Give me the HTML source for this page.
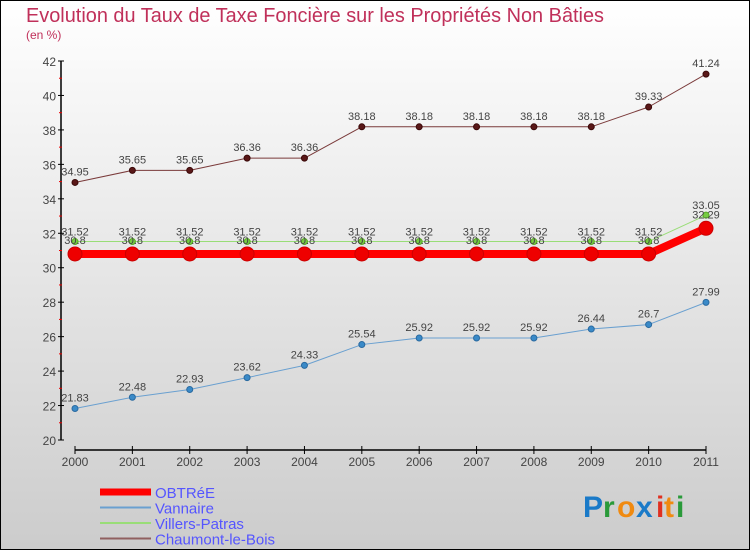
<!DOCTYPE html>
<html><head><meta charset="utf-8"><style>
body{margin:0;width:750px;height:550px;overflow:hidden;font-family:"Liberation Sans",sans-serif}
svg text{font-family:"Liberation Sans",sans-serif}
</style></head><body>
<svg id="c" width="750" height="550" xmlns="http://www.w3.org/2000/svg">
<defs><linearGradient id="bg" x1="0" y1="0" x2="0" y2="1"><stop offset="0" stop-color="#ffffff"/><stop offset="1" stop-color="#cccccc"/></linearGradient></defs>
<rect x="0.5" y="0.5" width="749" height="549" fill="url(#bg)" stroke="#000"/>
<text x="26" y="22" font-size="20" fill="#c0305a" textLength="578" lengthAdjust="spacingAndGlyphs">Evolution du Taux de Taxe Foncière sur les Propriétés Non Bâties</text>
<text x="26" y="39" font-size="12" fill="#c0305a">(en %)</text>
<g id="axes"></g><g id="series"></g><g id="legend"></g>
<g font-size="30" font-weight="bold">
<text x="583" y="517" fill="#1a7ac8">P</text><text x="603" y="517" fill="#2a9a3a">r</text><text x="617" y="517" fill="#f08a10">o</text><text x="636" y="517" fill="#1a7ac8">x</text><text x="656" y="517" fill="#e03020">i</text><text x="664" y="517" fill="#f08a10">t</text><text x="676" y="517" fill="#2a9a3a">i</text>
</g>
</svg>
<script>
const years=[2000,2001,2002,2003,2004,2005,2006,2007,2008,2009,2010,2011];
const obtree=[30.8,30.8,30.8,30.8,30.8,30.8,30.8,30.8,30.8,30.8,30.8,32.29];
const vannaire=[21.83,22.48,22.93,23.62,24.33,25.54,25.92,25.92,25.92,26.44,26.7,27.99];
const villers=[31.52,31.52,31.52,31.52,31.52,31.52,31.52,31.52,31.52,31.52,31.52,33.05];
const chaumont=[34.95,35.65,35.65,36.36,36.36,38.18,38.18,38.18,38.18,38.18,39.33,41.24];
const yTicks=[20,22,24,26,28,30,32,34,36,38,40,42];
const NS="http://www.w3.org/2000/svg";
const x=i=>75+i*(631/11);
const y=v=>440-(v-20)*(379/22);
function mk(t,a,p){const e=document.createElementNS(NS,t);for(const k in a)e.setAttribute(k,a[k]);p.appendChild(e);return e;}
const ax=document.getElementById('axes');
let e=mk('line',{x1:61,y1:y(42),x2:61,y2:440,stroke:'#000','stroke-width':1.5},ax);


e=mk('line',{x1:75,y1:450,x2:706,y2:450,stroke:'#000','stroke-width':1.5},ax);


yTicks.forEach(v=>{
 mk('line',{x1:58,x2:64,y1:y(v),y2:y(v),stroke:'#000'},ax);
 if(v<42)mk('line',{x1:59,x2:62,y1:y(v+1),y2:y(v+1),stroke:'#e00'},ax);
 const t=mk('text',{x:56,y:y(v)+5,'text-anchor':'end','font-size':12,fill:'#444'},ax);t.textContent=v;
 
 
});
years.forEach((yr,i)=>{
 mk('line',{x1:x(i),x2:x(i),y1:446,y2:454,stroke:'#000'},ax);
 const t=mk('text',{x:x(i),y:466,'text-anchor':'middle','font-size':12,fill:'#444'},ax);t.textContent=yr;
 
 
});
const sg=document.getElementById('series');
function series(vals,name,color,w,r,dot,dotStroke,labelDy){
 const g=mk('g',{},sg);
 
 
 const pl=mk('polyline',{points:vals.map((v,i)=>x(i)+','+y(v)).join(' '),fill:'none',stroke:color,'stroke-width':w,'stroke-linejoin':'round'},g);
 
 
 vals.forEach((v,i)=>{
  const c=mk('circle',{cx:x(i),cy:y(v),r:r,fill:dot,stroke:dotStroke,'stroke-width':1},g);
  
  
  const t=mk('text',{x:x(i),y:y(v)+labelDy,'text-anchor':'middle','font-size':11,fill:'#444'},g);t.textContent=v;
  
  
 });
}
series(chaumont,'chaumont-le-bois','#7a3a3a',1,3,'#5a1818','#3a0808',-7);
series(vannaire,'vannaire','#6aa0d0',1,3,'#3a8ac8','#2a6aa0',-7);
series(villers,'villers-patras','#99dd77',1,3,'#77cc44','#55aa22',-6);
series(obtree,'obtree','#ff0000',8,7,'#ee0000','#cc0000',-10);
const lg=document.getElementById('legend');
const L=[['OBTRéE','#ff0000',7],['Vannaire','#6aa0d0',2],['Villers-Patras','#99dd77',2],['Chaumont-le-Bois','#906060',2]];
L.forEach((l,i)=>{
 const yy=492+i*15.5;
 const g=mk('g',{},lg);
 
 
 mk('line',{x1:100,x2:151,y1:yy,y2:yy,stroke:l[1],'stroke-width':l[2]},g);
 const t=mk('text',{x:155,y:yy+6,'font-size':15,fill:'#5555ff'},g);t.textContent=l[0];
});
</script>
</body></html>
